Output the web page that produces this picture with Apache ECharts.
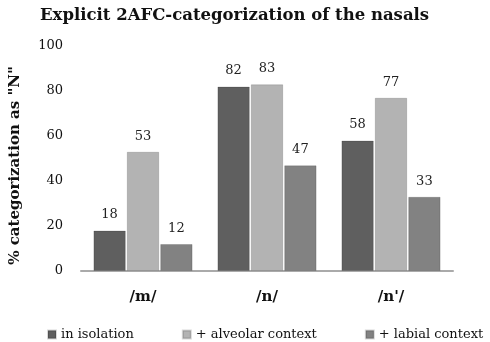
<!DOCTYPE html>
<html>
<head>
<meta charset="utf-8">
<script src="https://cdn.jsdelivr.net/npm/echarts@6/dist/echarts.min.js"></script>
<style>
  html, body { margin: 0; padding: 0; background: #fff; }
  #chart { width: 490px; height: 342px; }
</style>
</head>
<body>
<div id="chart"></div>
<script>
const categories = ['/m/', '/n/', "/n'/"]
const seriesNames = ['in isolation', '+ alveolar context', '+ labial context']
const isolation = [18, 82, 58]
const alveolar = [53, 83, 77]
const labial = [12, 47, 33]
const colors = ['#5f5f5f', '#b3b3b3', '#828282']

const font = '"DejaVu Serif", "Liberation Serif", serif'
const chart = echarts.init(document.getElementById('chart'))

const makeSeries = (name, data, color) => ({
  name,
  type: 'bar',
  data,
  barGap: '3%',
  barCategoryGap: '20%',
  itemStyle: { color, borderColor: 'rgba(0,0,0,0.15)', borderWidth: 1 },
  label: {
    show: true,
    position: 'top',
    distance: 9,
    color: '#222',
    fontFamily: font,
    fontSize: 13
  }
})

chart.setOption({
  backgroundColor: '#fff',
  animation: false,
  color: colors,
  title: {
    text: 'Explicit 2AFC-categorization of the nasals',
    left: 35,
    top: 2,
    textStyle: { fontFamily: font, fontWeight: 'bold', fontSize: 16.5, color: '#111' }
  },
  legend: {
    top: 323,
    left: 42,
    itemGap: 48,
    itemWidth: 8,
    itemHeight: 8,
    icon: 'rect',
    textStyle: { fontFamily: font, fontSize: 13, color: '#111' },
    data: seriesNames
  },
  grid: { left: 75, right: 37, top: 46, bottom: 71 },
  xAxis: {
    type: 'category',
    data: categories,
    axisLine: { lineStyle: { color: '#aaa', width: 2 } },
    axisTick: { show: false },
    axisLabel: { fontFamily: font, fontWeight: 'bold', fontSize: 15, color: '#111', margin: 19 }
  },
  yAxis: {
    type: 'value',
    min: 0,
    max: 100,
    interval: 20,
    name: '% categorization as "N"',
    nameLocation: 'middle',
    nameGap: 58,
    nameTextStyle: { fontFamily: font, fontWeight: 'bold', fontSize: 15, color: '#111', padding: [0, 0, 0, -14] },
    axisLine: { show: false },
    axisTick: { show: false },
    splitLine: { show: false },
    axisLabel: { fontFamily: font, fontSize: 13, color: '#111', margin: 18 }
  },
  series: [
    makeSeries(seriesNames[0], isolation, colors[0]),
    makeSeries(seriesNames[1], alveolar, colors[1]),
    makeSeries(seriesNames[2], labial, colors[2])
  ]
})
</script>
</body>
</html>
